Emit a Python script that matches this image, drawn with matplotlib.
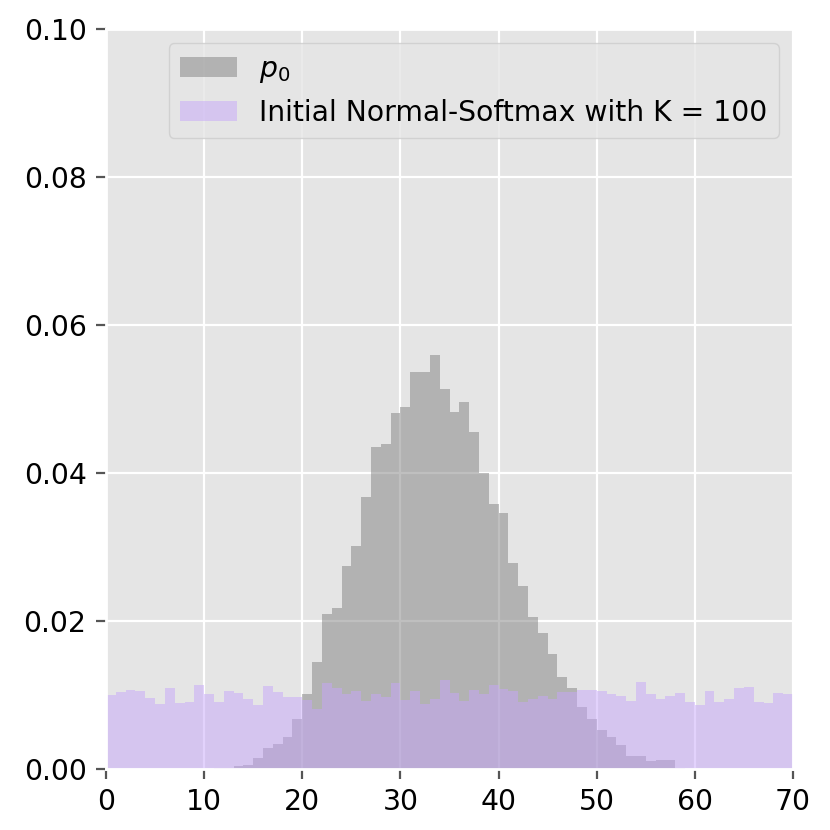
import numpy as np
import matplotlib as mpl
mpl.use('Agg')
from matplotlib import pyplot as plt

plt.style.use('ggplot')
plt.rcParams['xtick.labelcolor'] = 'black'
plt.rcParams['ytick.labelcolor'] = 'black'
plt.rcParams['font.family'] = ['DejaVu Sans']
plt.rcParams['font.size'] = 10.2

# bin edges 0..70, one unit wide
edges = np.arange(0, 71)
centers = edges[:-1] + 0.5

# p0 histogram heights (density per bin)
p0 = [0, 0, 0, 0, 0, 0, 0, 0, 0, 0,
      0, 0.0001, 0.0002, 0.0004, 0.0005, 0.0015, 0.0028, 0.0034, 0.0043, 0.0068,
      0.0101, 0.0144, 0.0210, 0.0218, 0.0274, 0.0301, 0.0368, 0.0435, 0.0439, 0.0481,
      0.0489, 0.0536, 0.0537, 0.0559, 0.0514, 0.0483, 0.0496, 0.0456, 0.0400, 0.0358,
      0.0346, 0.0279, 0.0247, 0.0205, 0.0184, 0.0156, 0.0124, 0.0110, 0.0084, 0.0068,
      0.0053, 0.0043, 0.0032, 0.0017, 0.0017, 0.0011, 0.0012, 0.0012, 0.0001, 0.00005,
      0, 0, 0, 0, 0, 0, 0, 0, 0, 0]

# initial normal-softmax heights
init_ns = [0.0100, 0.01045, 0.0107, 0.0106, 0.0096, 0.0088, 0.0110, 0.0089, 0.0090, 0.01135,
           0.0101, 0.0091, 0.0106, 0.0103, 0.0094, 0.0086, 0.0112, 0.0104, 0.0097, 0.0097,
           0.0093, 0.0081, 0.0116, 0.0109, 0.0102, 0.0105, 0.0092, 0.0101, 0.0097, 0.0116,
           0.0093, 0.0106, 0.0088, 0.0095, 0.0120, 0.0103, 0.0092, 0.0107, 0.0102, 0.0113,
           0.0108, 0.0105, 0.0091, 0.0094, 0.0098, 0.0095, 0.0104, 0.0104, 0.0107, 0.0107,
           0.0105, 0.0101, 0.0099, 0.0092, 0.0118, 0.0101, 0.0095, 0.0098, 0.0103, 0.0091,
           0.0086, 0.0106, 0.0090, 0.0094, 0.0109, 0.0111, 0.0090, 0.0089, 0.0103, 0.0101]

fig = plt.figure(figsize=(4.15, 4.15), dpi=200)
ax = fig.add_axes([106 / 830, 61 / 830, 687 / 830, 740 / 830])

ax.hist(centers, bins=edges, weights=p0, color='gray', alpha=0.5, label='$p_0$')
ax.hist(centers, bins=edges, weights=init_ns, color='#c6a6fa', alpha=0.5,
        label='Initial Normal-Softmax with K = 100')

ax.set_xlim(0, 70)
ax.set_ylim(0, 0.1)
ax.legend(loc='upper right')

fig.savefig('out.png', dpi=200)
